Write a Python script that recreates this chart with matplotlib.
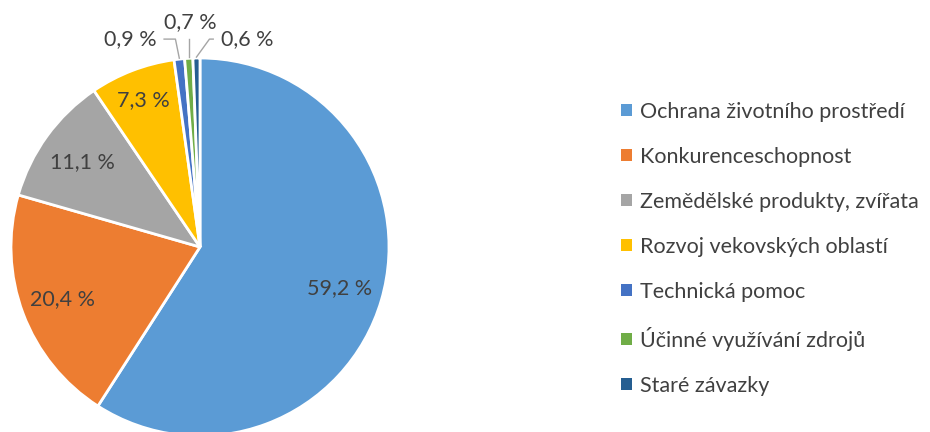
import numpy as np
import matplotlib
matplotlib.use('Agg')
import matplotlib.pyplot as plt
from matplotlib.patches import Patch

# data
categories = ['Ochrana životního prostředí', 'Konkurenceschopnost',
              'Zemědělské produkty, zvířata', 'Rozvoj vekovských oblastí',
              'Technická pomoc', 'Účinné využívání zdrojů', 'Staré závazky']
values = [59.2, 20.4, 11.1, 7.3, 0.9, 0.7, 0.6]
labels = ['59,2 %', '20,4 %', '11,1 %', '7,3 %', '0,9 %', '0,7 %', '0,6 %']
colors = ['#5B9BD5', '#ED7D31', '#A5A5A5', '#FFC000', '#4472C4', '#70AD47', '#255E91']

plt.rcParams['font.family'] = ['Lato', 'DejaVu Sans']
txt_col = '#404040'
fs = 15.5

W, H = 930, 432
fig = plt.figure(figsize=(W/100, H/100), dpi=100)

# pie center (200, 247) px from top, radius 189 px
cx, cy, r = 200, H - 247, 189
ax = fig.add_axes([(cx - r)/W, (cy - r)/H, 2*r/W, 2*r/H])
ax.axis('off')

wedges, _ = ax.pie(values, colors=colors, startangle=90, counterclock=False,
                   radius=1, wedgeprops=dict(edgecolor='white', linewidth=2),
                   frame=False)
ax.set_xlim(-1, 1); ax.set_ylim(-1, 1)

# inside labels (distance from centre, in radii)
label_dist = [0.77, 0.78, 0.77, 0.83]
for w, lab, d in zip(wedges, labels, label_dist):
  mid = np.deg2rad((w.theta1 + w.theta2)/2)
  ax.text(d*np.cos(mid), d*np.sin(mid), lab, ha='center', va='center',
          fontsize=fs, color=txt_col)

# outside labels for small slices (text pos, elbow pos)
out_pos = {4: ((-0.37, 1.10), (-0.13, 1.10)),
           5: ((-0.05, 1.19), None),
           6: ((0.25, 1.10), (0.05, 1.10))}
for i, (tpos, elbow) in out_pos.items():
  w = wedges[i]
  mid = np.deg2rad((w.theta1 + w.theta2)/2)
  ex, ey = np.cos(mid)*1.0, np.sin(mid)*1.0
  ax.text(tpos[0], tpos[1], labels[i], ha='center', va='center',
          fontsize=fs, color=txt_col, clip_on=False)
  if i == 5:
    xs, ys = [ex, ex], [ey + 0.005, 1.10]
  elif i == 4:
    xs, ys = [tpos[0] + 0.18, elbow[0], ex], [elbow[1], elbow[1], ey + 0.005]
  else:
    xs, ys = [tpos[0] - 0.18, elbow[0], ex], [elbow[1], elbow[1], ey + 0.005]
  ax.plot(xs, ys, color='#A5A5A5', lw=1, clip_on=False)

handles = [Patch(facecolor=c, edgecolor='none') for c in colors]
fig.legend(handles, categories, loc='upper left', bbox_to_anchor=(610/W, 1 - 91/H),
           frameon=False, fontsize=fs, labelcolor=txt_col,
           handlelength=0.5, handleheight=0.5, handletextpad=0.4,
           labelspacing=1.16, borderpad=0)

fig.savefig('out.png', dpi=100)
